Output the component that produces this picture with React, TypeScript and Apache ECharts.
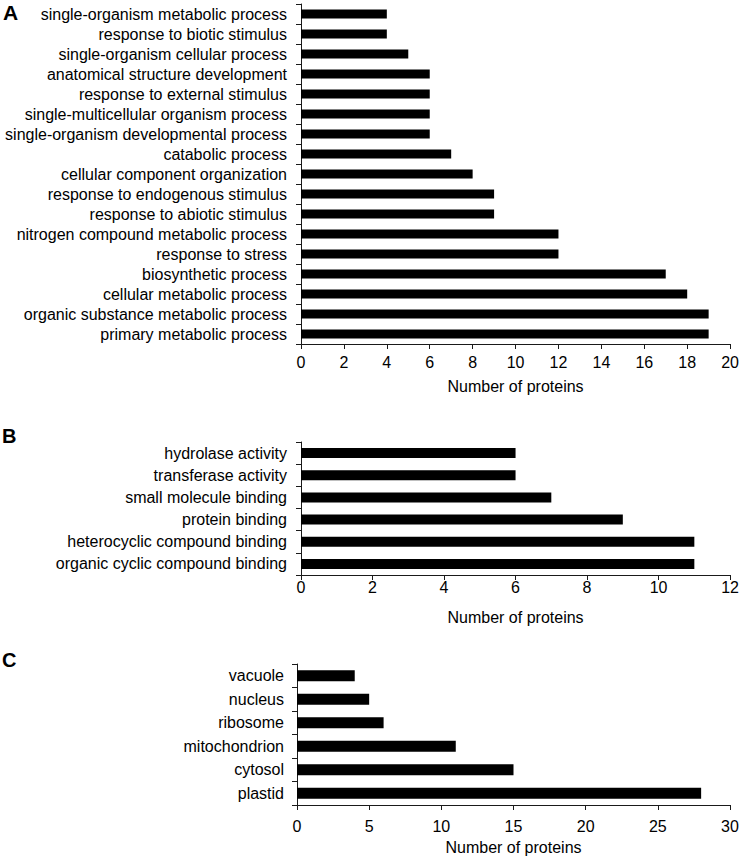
import React, { useEffect, useRef } from "react";
import * as echarts from "echarts";

const bpCategories = [
  "single-organism metabolic process",
  "response to biotic stimulus",
  "single-organism cellular process",
  "anatomical structure development",
  "response to external stimulus",
  "single-multicellular organism process",
  "single-organism developmental process",
  "catabolic process",
  "cellular component organization",
  "response to endogenous stimulus",
  "response to abiotic stimulus",
  "nitrogen compound metabolic process",
  "response to stress",
  "biosynthetic process",
  "cellular metabolic process",
  "organic substance metabolic process",
  "primary metabolic process",
];
const bpValues = [4, 4, 5, 6, 6, 6, 6, 7, 8, 9, 9, 12, 12, 17, 18, 19, 19];

const mfCategories = [
  "hydrolase activity",
  "transferase activity",
  "small molecule binding",
  "protein binding",
  "heterocyclic compound binding",
  "organic cyclic compound binding",
];
const mfValues = [6, 6, 7, 9, 11, 11];

const ccCategories = ["vacuole", "nucleus", "ribosome", "mitochondrion", "cytosol", "plastid"];
const ccValues = [4, 5, 6, 11, 15, 28];

const panelLetters = ["A", "B", "C"];
const axisTitle = "Number of proteins";

const FONT = "'Liberation Sans', Arial, Helvetica, sans-serif";
const AXIS_COLOR = "#1a1a1a";

export default function App() {
  const ref = useRef<HTMLDivElement>(null);

  useEffect(() => {
    document.body.style.margin = "0";
    if (!ref.current) return;
    const chart = echarts.init(ref.current, null, { renderer: "svg" });

    const grids = [
      { left: 301, top: 4, width: 431, height: 340 },
      { left: 301, top: 442, width: 432, height: 133 },
      { left: 297, top: 664, width: 433, height: 141 },
    ];
    const xConf = [
      { max: 20, interval: 2, labelMargin: 10 },
      { max: 12, interval: 2, labelMargin: 4 },
      { max: 30, interval: 5, labelMargin: 13 },
    ];
    const cats = [bpCategories, mfCategories, ccCategories];
    const vals = [bpValues, mfValues, ccValues];
    const barW = [9, 10, 11];
    const yMargin = [14, 14, 13];

    const axisLine = { show: true, lineStyle: { color: AXIS_COLOR, width: 1 } };
    const axisTick = { show: true, inside: false, length: 5, lineStyle: { color: AXIS_COLOR, width: 1 } };

    chart.setOption({
      animation: false,
      backgroundColor: "#ffffff",
      textStyle: { fontFamily: FONT },
      grid: grids.map((g) => ({ ...g, containLabel: false })),
      xAxis: xConf.map((c, i) => ({
        type: "value",
        gridIndex: i,
        min: 0,
        max: c.max,
        interval: c.interval,
        splitLine: { show: false },
        axisLine,
        axisTick,
        axisLabel: { color: "#000", fontSize: 16, fontFamily: FONT, margin: c.labelMargin },
        name: axisTitle,
        nameLocation: "middle",
        nameGap: 34,
        nameTextStyle: { color: "#000", fontSize: 16, fontFamily: FONT },
      })),
      yAxis: cats.map((c, i) => ({
        type: "category",
        gridIndex: i,
        data: c,
        inverse: true,
        axisLine,
        axisTick: { ...axisTick, alignWithLabel: false },
        splitLine: { show: false },
        axisLabel: { color: "#000", fontSize: 16, fontFamily: FONT, margin: yMargin[i], interval: 0 },
      })),
      series: vals.map((v, i) => ({
        type: "bar",
        xAxisIndex: i,
        yAxisIndex: i,
        data: v,
        barWidth: barW[i],
        itemStyle: { color: "#000" },
      })),
      graphic: [
        { type: "text", left: 3, top: 2, style: { text: panelLetters[0], font: `bold 21px ${FONT}`, fill: "#000" } },
        { type: "text", left: 2, top: 426, style: { text: panelLetters[1], font: `bold 20px ${FONT}`, fill: "#000" } },
        { type: "text", left: 2, top: 650, style: { text: panelLetters[2], font: `bold 20px ${FONT}`, fill: "#000" } },
      ],
    });

    return () => chart.dispose();
  }, []);

  return (
    <div
      ref={ref}
      style={{ position: "absolute", left: 0, top: 0, width: 742, height: 857, background: "#fff" }}
    />
  );
}
